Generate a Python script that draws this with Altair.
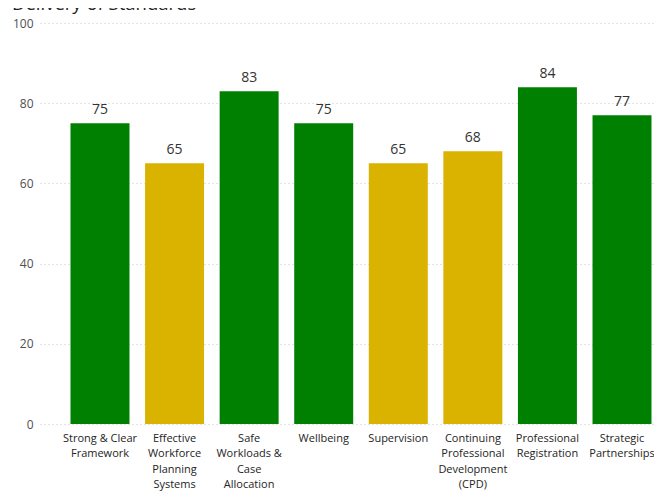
import altair as alt
import pandas as pd

title_text = "Delivery of Standards"
categories = [
    "Strong & Clear\nFramework",
    "Effective\nWorkforce\nPlanning\nSystems",
    "Safe\nWorkloads &\nCase\nAllocation",
    "Wellbeing",
    "Supervision",
    "Continuing\nProfessional\nDevelopment\n(CPD)",
    "Professional\nRegistration",
    "Strategic\nPartnerships",
]
values = [75, 65, 83, 75, 65, 68, 84, 77]
status = ["Green", "Amber", "Green", "Green", "Amber", "Amber", "Green", "Green"]
y_ticks = [0, 20, 40, 60, 80, 100]

df = pd.DataFrame({"category": categories, "value": values, "status": status})
title_df = pd.DataFrame({"t": [title_text]})

FONT = "Segoe UI, Open Sans, sans-serif"

x_enc = alt.X(
    "category:N",
    sort=categories,
    scale=alt.Scale(range=[0, 642], paddingInner=0.209, paddingOuter=0.409),
    axis=alt.Axis(
        title=None,
        labelAngle=0,
        labelExpr="split(datum.label, '\\n')",
        labelFont=FONT,
        labelFontSize=11,
        labelLineHeight=15.5,
        labelColor="#252423",
        labelPadding=8,
        labelBaseline="top",
        ticks=False,
        domain=False,
        grid=False,
        labelOverlap=False,
        labelLimit=200,
    ),
)

y_enc = alt.Y(
    "value:Q",
    scale=alt.Scale(domain=[0, 100], nice=False),
    axis=alt.Axis(
        title=None,
        values=y_ticks,
        labelFont=FONT,
        labelFontSize=12,
        labelColor="#4F4F4F",
        labelPadding=7,
        ticks=False,
        domain=False,
        grid=True,
        gridColor="#C8C6C4",
        gridDash=[1, 3],
        gridWidth=1,
    ),
)

bars = alt.Chart(df).mark_bar().encode(
    x=x_enc,
    y=y_enc,
    color=alt.Color(
        "status:N",
        scale=alt.Scale(domain=["Green", "Amber"], range=["#008000", "#DAB300"]),
        legend=None,
    ),
)

labels = alt.Chart(df).mark_text(
    baseline="bottom", dy=-6, font=FONT, fontSize=14, color="#333333"
).encode(
    x=alt.X("category:N", sort=categories),
    y=alt.Y("value:Q"),
    text=alt.Text("value:Q"),
)

title = alt.Chart(title_df).mark_text(
    align="left", baseline="alphabetic", font=FONT, fontSize=18.5, color="#252423"
).encode(
    x=alt.value(-28),
    y=alt.value(-13),
    text="t:N",
)

chart = (
    alt.layer(bars, labels, title)
    .properties(
        width=614,
        height=401,
        padding={"left": 32, "top": 15, "right": 0, "bottom": 68},
        autosize=alt.AutoSizeParams(type="none"),
    )
    .configure_view(stroke=None)
)

chart.save("out.html", embed_options={"renderer": "svg", "actions": False})
